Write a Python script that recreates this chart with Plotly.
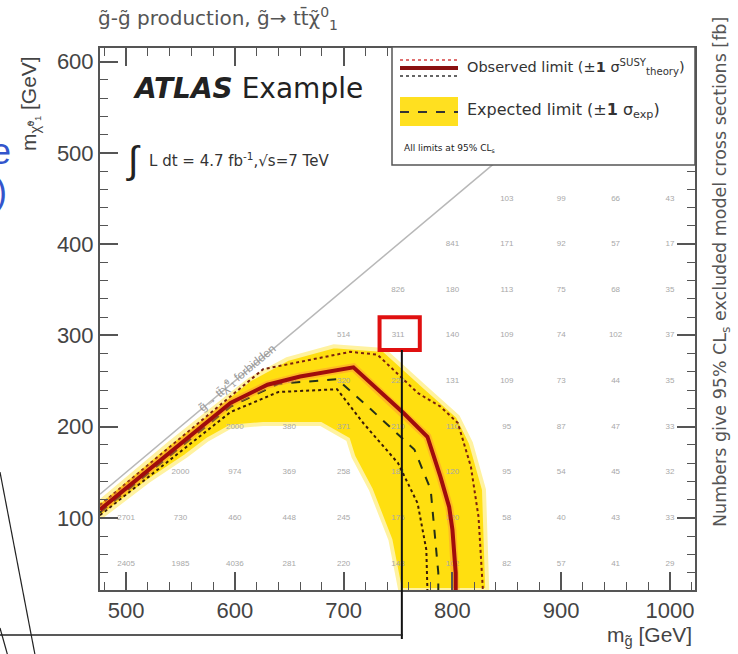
import plotly.graph_objects as go

# ---------------- data ----------------
x_range = [476, 1023]
y_range = [21, 615]

# kinematic boundary (g~ -> t t chi forbidden)
kin_x = [476, 850]
kin_y = [126, 500]

# expected +-1 sigma band (upper edge left->right, lower edge right->left)
band_upper_x = [476, 540, 614, 648, 691, 737, 774, 805, 817, 829, 832]
band_upper_y = [118, 182, 252, 274, 288, 284, 244, 211, 182, 131, 21]
band_lower_x = [752, 743, 725, 709, 704, 679, 626, 596, 575, 555, 520, 476]
band_lower_y = [21, 76, 131, 167, 186, 203, 203, 200, 186, 168, 140, 100]

# observed limit
obs_x = [476, 596, 630, 660, 709, 755, 777, 789, 797, 800, 803, 803]
obs_y = [109, 226, 246, 255, 265, 215, 189, 145, 112, 87, 40, 21]
# observed +1 sigma theory
obs_up_x = [476, 560, 626, 706, 731, 768, 789, 805, 817, 824, 828]
obs_up_y = [114, 198, 263, 282, 279, 237, 222, 204, 156, 101, 21]
# observed -1 sigma theory
obs_dn_x = [476, 596, 640, 694, 718, 750, 768, 776, 777]
obs_dn_y = [103, 216, 238, 241, 204, 160, 116, 65, 21]
# expected limit
exp_x = [476, 596, 640, 694, 725, 765, 780, 787, 787]
exp_y = [106, 222, 247, 252, 219, 175, 131, 40, 21]

# excluded cross-section numbers (fb)
grid_cols = [500, 550, 600, 650, 700, 750, 800, 850, 900, 950, 1000]
grid_rows = [50, 100, 150, 200, 250, 300, 350, 400, 450]
grid_vals = [
    ["2405", "1985", "4036", "281", "220", "148", "102", "82", "57", "41", "29"],
    ["2701", "730", "460", "448", "245", "176", "120", "58", "40", "43", "33"],
    [None, "2000", "974", "369", "258", "181", "120", "95", "54", "45", "32"],
    [None, None, "2000", "380", "371", "210", "110", "95", "87", "47", "33"],
    [None, None, None, "430", "320", "220", "131", "109", "73", "44", "35"],
    [None, None, None, None, "514", "311", "140", "109", "74", "102", "37"],
    [None, None, None, None, None, "826", "180", "113", "75", "68", "35"],
    [None, None, None, None, None, None, "841", "171", "92", "57", "17"],
    [None, None, None, None, None, None, None, "103", "99", "66", "43"],
]
highlight_cell = (750, 300)

# ---------------- helpers (pixel -> paper) ----------------
L, R, T, B = 100, 695, 48, 590
def PX(p):
    return (p - L) / (R - L)
def PY(p):
    return (B - p) / (B - T)

FONT = "Liberation Sans, Arial, sans-serif"
WIDE = "DejaVu Sans, sans-serif"

fig = go.Figure()

# band
fig.add_trace(go.Scatter(
    x=band_upper_x + band_lower_x, y=band_upper_y + band_lower_y,
    fill="toself", fillcolor="#ffdf10", mode="lines",
    line=dict(color="#fff2a0", width=4), hoverinfo="skip", showlegend=False))

# kinematic line
fig.add_trace(go.Scatter(x=kin_x, y=kin_y, mode="lines",
                         line=dict(color="#b8b8b8", width=1.5), showlegend=False))

# numbers
tx, ty, tt = [], [], []
for r, row in zip(grid_rows, grid_vals):
    for c, v in zip(grid_cols, row):
        if v is not None:
            tx.append(c); ty.append(r); tt.append(v)
fig.add_trace(go.Scatter(x=tx, y=ty, text=tt, mode="text",
                         textfont=dict(size=8, color="#a8a8a8", family=FONT),
                         showlegend=False))

# lines
fig.add_trace(go.Scatter(x=obs_up_x, y=obs_up_y, mode="lines",
                         line=dict(color="#7a2010", width=2, dash="dot"), showlegend=False))
fig.add_trace(go.Scatter(x=obs_dn_x, y=obs_dn_y, mode="lines",
                         line=dict(color="#3a1a08", width=2, dash="dot"), showlegend=False))
fig.add_trace(go.Scatter(x=exp_x, y=exp_y, mode="lines",
                         line=dict(color="#243018", width=2, dash="dash"), showlegend=False))
fig.add_trace(go.Scatter(x=obs_x, y=obs_y, mode="lines",
                         line=dict(color="rgba(255,140,60,0.45)", width=8), showlegend=False))
fig.add_trace(go.Scatter(x=obs_x, y=obs_y, mode="lines",
                         line=dict(color="#a00c0c", width=4), showlegend=False))

shapes = []
# legend box
shapes.append(dict(type="rect", xref="paper", yref="paper", x0=PX(392), x1=PX(695),
                   y0=PY(165), y1=PY(47), fillcolor="white",
                   line=dict(color="#555", width=1.5), layer="above"))
# legend samples
shapes.append(dict(type="line", xref="paper", yref="paper", x0=PX(400), x1=PX(458),
                   y0=PY(60), y1=PY(60), line=dict(color="#e07070", width=2, dash="dot"), layer="above"))
shapes.append(dict(type="line", xref="paper", yref="paper", x0=PX(400), x1=PX(458),
                   y0=PY(68), y1=PY(68), line=dict(color="#8a1010", width=4), layer="above"))
shapes.append(dict(type="line", xref="paper", yref="paper", x0=PX(400), x1=PX(458),
                   y0=PY(76), y1=PY(76), line=dict(color="#333", width=1.5, dash="dot"), layer="above"))
shapes.append(dict(type="rect", xref="paper", yref="paper", x0=PX(400), x1=PX(458),
                   y0=PY(126), y1=PY(97), fillcolor="#ffe020", line=dict(width=0), layer="above"))
shapes.append(dict(type="line", xref="paper", yref="paper", x0=PX(400), x1=PX(458),
                   y0=PY(112), y1=PY(112), line=dict(color="#333", width=2, dash="dash"), layer="above"))
# red highlight box
hx, hy = highlight_cell
shapes.append(dict(type="rect", xref="x", yref="y", x0=hx - 17, x1=hx + 20,
                   y0=hy - 16, y1=hy + 20, line=dict(color="#e01010", width=4), layer="above"))
# callout lines
shapes.append(dict(type="line", xref="x", yref="paper", x0=hx + 3.5, x1=hx + 3.5,
                   y0=PY(350), y1=PY(639), line=dict(color="#111", width=2), layer="above"))
shapes.append(dict(type="line", xref="paper", yref="paper", x0=PX(-5), x1=PX(403),
                   y0=PY(635), y1=PY(635), line=dict(color="#222", width=1.5), layer="above"))
shapes.append(dict(type="line", xref="paper", yref="paper", x0=PX(0), x1=PX(36),
                   y0=PY(472), y1=PY(660), line=dict(color="#222", width=1.2), layer="above"))
shapes.append(dict(type="line", xref="paper", yref="paper", x0=PX(0), x1=PX(9),
                   y0=PY(628), y1=PY(660), line=dict(color="#222", width=1.2), layer="above"))

ann = []
def A(text, x, y, size, color="#333", xanchor="left", angle=0, family=FONT):
    ann.append(dict(text=text, x=PX(x), y=PY(y), xref="paper", yref="paper",
                    showarrow=False, xanchor=xanchor, yanchor="middle", textangle=angle,
                    font=dict(size=size, color=color, family=family)))

A("g\u0303-g\u0303 production, g\u0303\u2192 tt\u0304\u03c7\u0303<sup>0</sup><sub>1</sub>", 96, 19, 20, "#555", family=WIDE)
A("<b><i>ATLAS</i></b> Example", 131, 88, 28, "#222", family=WIDE)
A("\u222b", 124, 160, 38, "#222")
A("L dt = 4.7 fb<sup>-1</sup>,\u221as=7 TeV", 147, 160, 15, "#333", family=WIDE)
A("Observed limit (\u00b1<b>1</b> \u03c3<sup>SUSY</sup><sub>theory</sub>)", 465, 67, 14.5, "#333", family=WIDE)
A("Expected limit (\u00b1<b>1</b> \u03c3<sub>exp</sub>)", 465, 110, 16, "#333", family=WIDE)
A("All limits at 95% CL<sub>s</sub>", 402, 148, 9, "#222", family=WIDE)
A("m<sub>\u03c7\u0303\u2070\u2081</sub> [GeV]", 30, 104, 21, "#444", xanchor="center", angle=-90)
A("m<sub>g\u0303</sub> [GeV]", 694, 636, 21, "#444", xanchor="right")
A("Numbers give 95% CL<sub>s</sub> excluded model cross sections [fb]", 721, 272, 17.5, "#555",
  xanchor="center", angle=-90, family=WIDE)
A("g\u0303\u2192 tt\u0304\u03c7\u0303\u2070\u2081 forbidden", 237, 378, 12, "#999", xanchor="center", angle=-40)
A("e", 13, 152, 36, "#3355cc", xanchor="right")
A(")", 9, 192, 36, "#3355cc", xanchor="right")

axis_common = dict(showgrid=False, zeroline=False, showline=True, linecolor="#555", linewidth=2,
                   ticks="inside", ticklen=18, tickwidth=1.5, tickcolor="#555", mirror="ticks",
                   tickfont=dict(size=22, color="#444", family=FONT),
                   minor=dict(ticks="inside", ticklen=8, tickwidth=1.2, tickcolor="#555", dtick=20))

fig.update_layout(
    width=738, height=654, autosize=False,
    margin=dict(l=L, r=738 - R, t=T, b=654 - B),
    paper_bgcolor="white", plot_bgcolor="white",
    xaxis=dict(range=x_range, tick0=500, dtick=100, **axis_common),
    yaxis=dict(range=y_range, tick0=100, dtick=100, **axis_common),
    shapes=shapes, annotations=ann, showlegend=False,
)

fig.write_html("out.html")
